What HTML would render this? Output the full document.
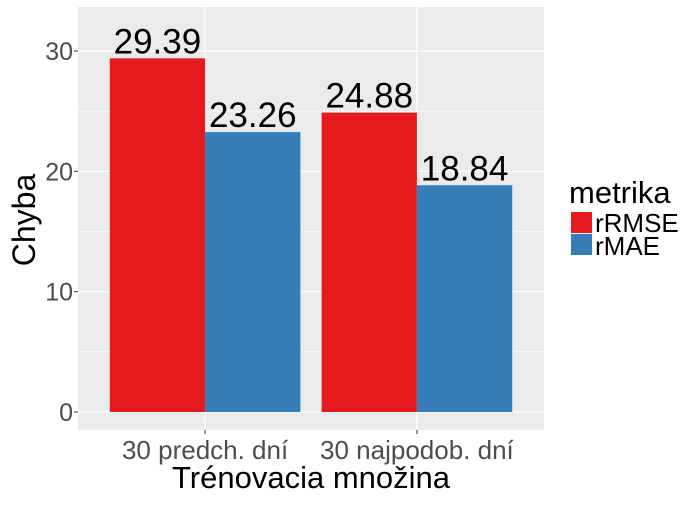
<!DOCTYPE html>
<html><head><meta charset="utf-8"><style>
body{margin:0;background:#fff}
text{font-family:"Liberation Sans",sans-serif}
</style></head><body>
<svg id="chart" width="700" height="500" xmlns="http://www.w3.org/2000/svg">
<rect x="78" y="7" width="466" height="423" fill="#ebebeb"/>
<g id="grid"></g><g id="bars"></g><g id="axes"></g>
<text x="311" y="488" font-size="31" text-anchor="middle" fill="#000">Trénovacia množina</text>
<text transform="translate(35,220) rotate(-90)" font-size="32" text-anchor="middle" fill="#000">Chyba</text>
<g>
<text x="569" y="203" font-size="31" fill="#000">metrika</text>
<rect x="571" y="212" width="21" height="21" fill="#e41a1c"/>
<text x="595" y="232" font-size="26" fill="#000">rRMSE</text>
<rect x="571" y="234" width="21" height="21" fill="#377eb8"/>
<text x="595" y="255" font-size="26" fill="#000">rMAE</text>
</g>
</svg>
<script>
const categories=["30 predch. dní","30 najpodob. dní"];
const rrmse=[29.39,24.88];
const rmae=[23.26,18.84];
const yTicks=[0,10,20,30];
const yMinor=[5,15,25];
const NS="http://www.w3.org/2000/svg";
const L=78,R=544,T=7,B=430;
const y0=412,y30=51;
function y(v){return y0-(y0-y30)*v/30;}
const unit=(R-L)/(categories.length+0.2);
function xc(i){return L+unit*(0.6+i);}
const bw=unit*0.45;
function mk(tag,attrs,parent){const e=document.createElementNS(NS,tag);for(const k in attrs)e.setAttribute(k,attrs[k]);parent.appendChild(e);return e;}
const grid=document.getElementById('grid'),bars=document.getElementById('bars'),axes=document.getElementById('axes');
yMinor.forEach(v=>{const l=mk('line',{x1:L,x2:R,y1:y(v),y2:y(v),stroke:'#fff','stroke-width':0.6},grid);

});
yTicks.forEach(v=>{const l=mk('line',{x1:L,x2:R,y1:y(v),y2:y(v),stroke:'#fff','stroke-width':1.2},grid);


const tk=mk('line',{x1:L-4,x2:L,y1:y(v),y2:y(v),stroke:'#333','stroke-width':1},axes);


const t=mk('text',{x:L-5,y:y(v)+9,'font-size':25,'text-anchor':'end',fill:'#4d4d4d'},axes);t.textContent=v;

});
categories.forEach((c,i)=>{const x=xc(i);
const l=mk('line',{x1:x,x2:x,y1:T,y2:B,stroke:'#fff','stroke-width':1.2},grid);


const tk=mk('line',{x1:x,x2:x,y1:B,y2:B+4,stroke:'#333','stroke-width':1},axes);


const t=mk('text',{x:x,y:459,'font-size':26,'text-anchor':'middle',fill:'#4d4d4d'},axes);t.textContent=c;


[[rrmse[i],'#e41a1c',-1,'rrmse'],[rmae[i],'#377eb8',0,'rmae']].forEach(([v,col,off,nm])=>{
const bx=x+off*bw;
const r=mk('rect',{x:bx,y:y(v),width:bw,height:y0-y(v),fill:col},bars);


const lt=mk('text',{x:bx+bw/2,y:y(v)-5,'font-size':35,'text-anchor':'middle',fill:'#000'},bars);lt.textContent=v.toFixed(2);

});});
</script>
</body></html>
